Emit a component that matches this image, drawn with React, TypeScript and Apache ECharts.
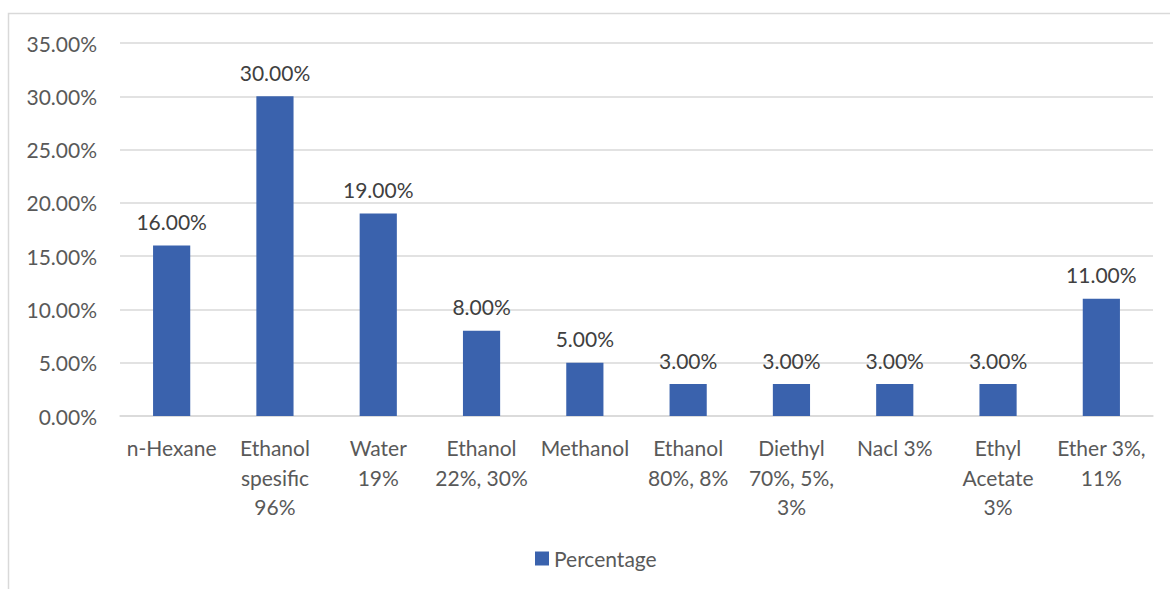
import React, { useEffect, useRef } from "react";
import * as echarts from "echarts";

const categories = [
  "n-Hexane",
  "Ethanol\nspesific\n96%",
  "Water\n19%",
  "Ethanol\n22%, 30%",
  "Methanol",
  "Ethanol\n80%, 8%",
  "Diethyl\n70%, 5%,\n3%",
  "Nacl 3%",
  "Ethyl\nAcetate\n3%",
  "Ether 3%,\n11%",
];

const percentage = [16, 30, 19, 8, 5, 3, 3, 3, 3, 11];

const seriesName = "Percentage";

const FONT = "Lato, 'Open Sans', sans-serif";

export default function App() {
  const ref = useRef<HTMLDivElement>(null);

  useEffect(() => {
    document.body.style.margin = "0";
    if (!ref.current) return;
    const chart = echarts.init(ref.current, null, { renderer: "svg" });
    chart.setOption({
      animation: false,
      backgroundColor: "#ffffff",
      textStyle: { fontFamily: FONT },
      graphic: [
        {
          type: "rect",
          shape: { x: 8.5, y: 13.5, width: 1300, height: 700 },
          style: { fill: "none", stroke: "#D9D9D9", lineWidth: 1.5 },
          silent: true,
          z: -1,
        },
      ],
      grid: { left: 120, right: 17, top: 43, bottom: 173 },
      legend: {
        left: 530,
        top: 543,
        itemWidth: 14,
        itemHeight: 14,
        itemGap: 8,
        icon: "rect",
        textStyle: { fontFamily: FONT, fontSize: 21, color: "#595959" },
        data: [seriesName],
      },
      xAxis: {
        type: "category",
        data: categories,
        axisLine: { lineStyle: { color: "#D9D9D9", width: 1.5 } },
        axisTick: { show: false },
        axisLabel: {
          interval: 0,
          margin: 17,
          fontFamily: FONT,
          fontSize: 21,
          lineHeight: 29.5,
          color: "#595959",
          align: "center",
        },
      },
      yAxis: {
        type: "value",
        min: 0,
        max: 35,
        interval: 5,
        axisLine: { show: false },
        axisTick: { show: false },
        splitLine: { lineStyle: { color: "#D9D9D9", width: 1.5 } },
        axisLabel: {
          margin: 23,
          fontFamily: FONT,
          fontSize: 21,
          color: "#595959",
          formatter: (v: number) => v.toFixed(2) + "%",
        },
      },
      series: [
        {
          name: seriesName,
          type: "bar",
          data: percentage,
          barWidth: "36%",
          itemStyle: { color: "#3A62AD" },
          label: {
            show: true,
            position: "top",
            distance: 12,
            fontFamily: FONT,
            fontSize: 21,
            lineHeight: 24,
            color: "#404040",
            formatter: (p: any) => Number(p.value).toFixed(2) + "%",
          },
        },
      ],
    });
    return () => chart.dispose();
  }, []);

  return <div ref={ref} style={{ width: 1170, height: 589 }} />;
}
